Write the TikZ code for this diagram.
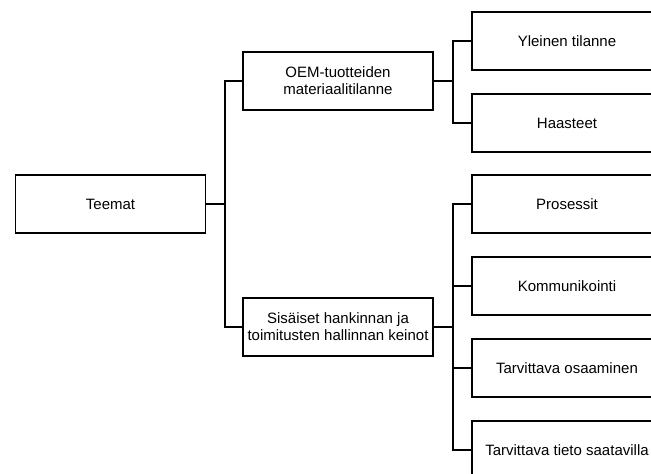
\documentclass[tikz,border=0pt]{standalone}
\usepackage{fontspec}
\setmainfont{Liberation Sans}
\begin{document}
\begin{tikzpicture}[x=1pt,y=-1pt,
  box/.style={draw, line width=1.1pt, minimum width=190pt, minimum height=58pt,
    inner sep=2pt, align=center, font=\fontsize{15}{17}\selectfont},
  link/.style={line width=1.1pt}]
\clip (0,0) rectangle (651,474);
\fill[white] (0,0) rectangle (651,474);

% root and first level
\node[box] (teemat) at (110.5,204) {Teemat};
\node[box] (oem) at (338,81) {OEM-tuotteiden\\materiaalitilanne};
\node[box] (sis) at (338,327) {Sisäiset hankinnan ja\\toimitusten hallinnan keinot};

% second level
\node[box] (yle) at (567,41) {Yleinen tilanne};
\node[box] (haa) at (567,123) {Haasteet};
\node[box] (pro) at (567,204) {Prosessit};
\node[box] (kom) at (567,286) {Kommunikointi};
\node[box] (osa) at (567,368) {Tarvittava osaaminen};
\node[box] (tie) at (567,450) {Tarvittava tieto saatavilla};

% bus lines
\coordinate (b0) at (225,0);
\coordinate (b1) at (453,0);

\draw[link] (oem.west) -- (oem.west -| b0) -- (sis.west -| b0) -- (sis.west);
\draw[link] (teemat.east) -- (teemat.east -| b0);

\draw[link] (yle.west) -- (yle.west -| b1) -- (haa.west -| b1) -- (haa.west);
\draw[link] (oem.east) -- (oem.east -| b1);

\draw[link] (pro.west) -- (pro.west -| b1) -- (tie.west -| b1) -- (tie.west);
\draw[link] (kom.west) -- (kom.west -| b1);
\draw[link] (osa.west) -- (osa.west -| b1);
\draw[link] (sis.east) -- (sis.east -| b1);
\end{tikzpicture}
\end{document}
